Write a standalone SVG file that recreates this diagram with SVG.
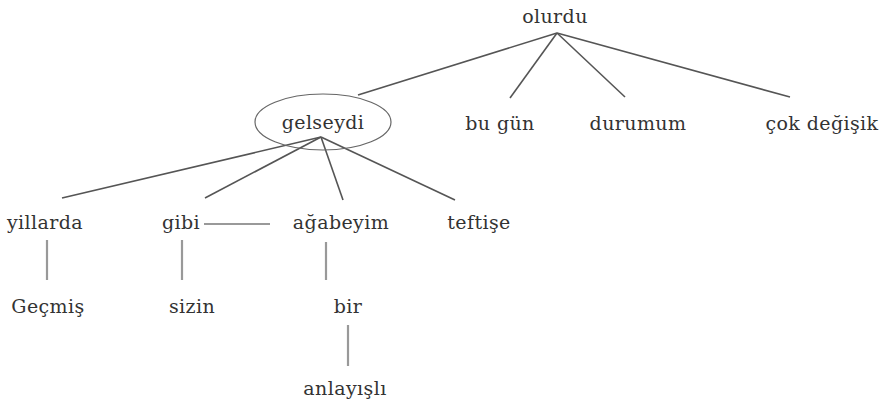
<svg xmlns="http://www.w3.org/2000/svg" width="890" height="410" viewBox="0 0 890 410">
<style>
text{font-family:"DejaVu Serif","Liberation Serif",serif;font-size:19px;letter-spacing:0.4px;fill:#333;text-anchor:middle}
.e{stroke:#555;stroke-width:1.6;fill:none}
.g{stroke:#999;stroke-width:2.2;fill:none}
</style>
<rect width="890" height="410" fill="#fff"/>
<g id="connectors">
<line class="e" x1="557" y1="33" x2="358" y2="95"/>
<line class="e" x1="557" y1="33" x2="510" y2="98"/>
<line class="e" x1="557" y1="33" x2="625" y2="97"/>
<line class="e" x1="557" y1="33" x2="790" y2="97"/>
<line class="e" x1="321" y1="137" x2="62" y2="198"/>
<line class="e" x1="321" y1="137" x2="205" y2="198"/>
<line class="e" x1="321" y1="137" x2="343" y2="200"/>
<line class="e" x1="321" y1="137" x2="455" y2="200"/>
<line class="g" x1="204" y1="224" x2="270" y2="224"/>
<line class="g" x1="47" y1="240" x2="47" y2="280"/>
<line class="g" x1="182" y1="240" x2="182" y2="280"/>
<line class="g" x1="326" y1="242" x2="326" y2="280"/>
<line class="g" x1="348" y1="325" x2="348" y2="366"/>
</g>
<g id="olurdu"><text x="555" y="23">olurdu</text></g>
<g id="gelseydi"><ellipse cx="323" cy="122" rx="68" ry="28" fill="none" stroke="#666" stroke-width="1.2"/><text x="323" y="129">gelseydi</text></g>
<g id="bugun"><text x="500" y="130">bu gün</text></g>
<g id="durumum"><text x="638" y="130">durumum</text></g>
<g id="cokdegisik"><text x="822" y="130">çok değişik</text></g>
<g id="yillarda"><text x="45" y="229">yillarda</text></g>
<g id="gibi"><text x="181" y="229">gibi</text></g>
<g id="agabeyim"><text x="341" y="229">ağabeyim</text></g>
<g id="teftise"><text x="479" y="229">teftişe</text></g>
<g id="gecmis"><text x="48" y="313">Geçmiş</text></g>
<g id="sizin"><text x="192" y="313">sizin</text></g>
<g id="bir"><text x="348" y="313">bir</text></g>
<g id="anlayisli"><text x="345" y="395">anlayışlı</text></g>
</svg>
